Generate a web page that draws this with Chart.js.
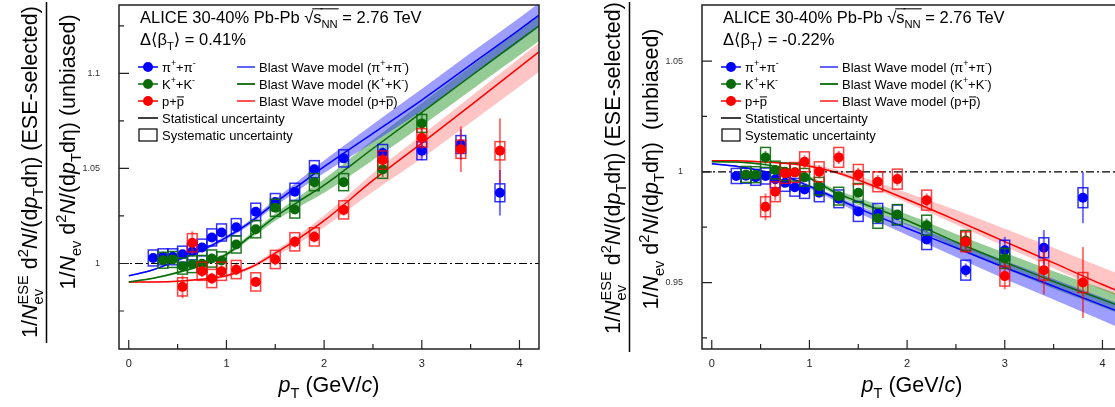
<!DOCTYPE html>
<html>
<head>
<meta charset="utf-8">
<script src="https://cdn.jsdelivr.net/npm/chart.js@4.4.1/dist/chart.umd.min.js"></script>
<style>
html, body { margin: 0; padding: 0; background: #fff; overflow: hidden; }
#wrap { position: relative; width: 1115px; height: 407px; overflow: hidden; }
.panel { position: absolute; top: 0; width: 583px; height: 407px; }
</style>
</head>
<body>
<div id="wrap">
  <div class="panel" style="left:0"><canvas id="left" width="583" height="407"></canvas></div>
  <div class="panel" style="left:583px"><canvas id="right" width="583" height="407"></canvas></div>
</div>
<script>
// ---------- axis ticks ----------
const xMajor = [0, 1, 2, 3, 4];
const xMinor = [0.5, 1.5, 2.5, 3.5];
const xTickLabels = ["0", "1", "2", "3", "4"];
const leftYMajor = [1, 1.05, 1.1];
const leftYMinor = [0.975, 1.025, 1.075, 1.125];
const leftYLabels = ["1", "1.05", "1.1"];
const rightYMajor = [0.95, 1, 1.05];
const rightYMinor = [0.925, 0.975, 1.025];
const rightYLabels = ["0.95", "1", "1.05"];

// ---------- left panel (d<beta_T> = 0.41%) ----------
const ptPi = [0.25, 0.35, 0.45, 0.55, 0.65, 0.75, 0.85, 0.95, 1.1, 1.3, 1.5, 1.7, 1.9, 2.2, 2.6, 3.0, 3.4, 3.8];
const ptK  = [0.35, 0.45, 0.55, 0.65, 0.75, 0.85, 0.95, 1.1, 1.3, 1.5, 1.7, 1.9, 2.2, 2.6, 3.0];
const ptP  = [0.55, 0.65, 0.75, 0.85, 0.95, 1.1, 1.3, 1.5, 1.7, 1.9, 2.2, 2.6, 3.0, 3.4, 3.8];

const leftPi     = [1.0029, 1.0035, 1.0035, 1.0049, 1.0063, 1.0084, 1.0137, 1.0163, 1.0191, 1.0272, 1.0323, 1.0377, 1.0496, 1.0553, 1.0581, 1.0593, 1.0626, 1.0372];
const leftPiStat = [0.001, 0.001, 0.001, 0.001, 0.001, 0.001, 0.001, 0.001, 0.0012, 0.0012, 0.0015, 0.0015, 0.002, 0.002, 0.003, 0.005, 0.008, 0.012];
const leftPiSys  = [0.0042, 0.0042, 0.0042, 0.0042, 0.0044, 0.0044, 0.0045, 0.0045, 0.0045, 0.0045, 0.0045, 0.0045, 0.0045, 0.0045, 0.0045, 0.0047, 0.0047, 0.0047];
const leftK      = [1.0017, 1.0021, 0.9986, 0.9996, 0.9998, 1.0026, 1.0016, 1.010, 1.018, 1.0293, 1.0284, 1.0428, 1.0428, 1.0495, 1.0737];
const leftKStat  = [0.001, 0.001, 0.001, 0.001, 0.001, 0.001, 0.001, 0.0012, 0.0012, 0.0015, 0.0015, 0.002, 0.0025, 0.004, 0.006];
const leftKSys   = [0.0042, 0.0042, 0.0042, 0.0044, 0.0044, 0.0045, 0.0045, 0.0045, 0.0045, 0.0045, 0.0045, 0.0045, 0.0045, 0.0047, 0.0047];
const leftP      = [0.9877, 1.0109, 0.9959, 0.9921, 0.9959, 0.9968, 0.9903, 1.0021, 1.0114, 1.014, 1.0282, 1.0544, 1.0661, 1.0601, 1.0593];
const leftPStat  = [0.006, 0.006, 0.003, 0.003, 0.003, 0.003, 0.002, 0.003, 0.003, 0.003, 0.003, 0.004, 0.006, 0.012, 0.017];
const leftPSys   = [0.0048, 0.0048, 0.0048, 0.0048, 0.0048, 0.0048, 0.0048, 0.0048, 0.0048, 0.0048, 0.0048, 0.0048, 0.0048, 0.0048, 0.0048];

const leftGrid   = [0, 0.25, 0.5, 0.75, 1.0, 1.25, 1.5, 1.75, 2.0, 2.5, 3.0, 3.5, 4.0, 4.2];
const leftBwPi   = [0.9935, 0.9967, 1.0017, 1.007, 1.0137, 1.0219, 1.032, 1.0415, 1.0509, 1.0685, 1.086, 1.1045, 1.123, 1.1307];
const leftBwPiDn = [0.0003, 0.0004, 0.0006, 0.0008, 0.001, 0.0013, 0.0018, 0.0025, 0.0033, 0.0048, 0.0058, 0.0062, 0.0063, 0.0063];
const leftBwPiUp = [0.0003, 0.0004, 0.0006, 0.0008, 0.001, 0.0013, 0.0018, 0.0025, 0.0033, 0.0048, 0.0058, 0.0062, 0.0063, 0.0063];
const leftBwK    = [0.9903, 0.9922, 0.9952, 0.9992, 1.0048, 1.0145, 1.0245, 1.033, 1.0412, 1.0605, 1.0795, 1.0985, 1.1175, 1.125];
const leftBwKDn  = [0.0003, 0.0004, 0.0006, 0.0008, 0.001, 0.0014, 0.002, 0.003, 0.004, 0.006, 0.007, 0.0075, 0.008, 0.008];
const leftBwKUp  = [0.0003, 0.0004, 0.0006, 0.0008, 0.001, 0.0013, 0.0018, 0.0025, 0.0032, 0.0045, 0.005, 0.0052, 0.0054, 0.0055];
const leftBwP    = [0.9902, 0.9903, 0.9907, 0.9917, 0.9935, 0.998, 1.0055, 1.0135, 1.0225, 1.0437, 1.0633, 1.0832, 1.1033, 1.1114];
const leftBwPDn  = [0.0003, 0.0003, 0.0004, 0.0005, 0.0007, 0.001, 0.0016, 0.0025, 0.0035, 0.006, 0.008, 0.009, 0.0102, 0.0105];
const leftBwPUp  = [0.0003, 0.0003, 0.0004, 0.0005, 0.0007, 0.001, 0.0014, 0.002, 0.0027, 0.0038, 0.0043, 0.0045, 0.0047, 0.0047];

// ---------- right panel (d<beta_T> = -0.22%) ----------
const rightPi     = [0.9981, 0.9982, 0.9975, 0.9981, 0.9966, 0.995, 0.993, 0.992, 0.9905, 0.9878, 0.9821, 0.9812, 0.9805, 0.9694, 0.9556, 0.9646, 0.9657, 0.9883];
const rightPiStat = [0.001, 0.001, 0.001, 0.001, 0.001, 0.001, 0.001, 0.001, 0.0012, 0.0012, 0.0015, 0.0015, 0.002, 0.002, 0.003, 0.006, 0.008, 0.0115];
const rightPiSys  = [0.0034, 0.0034, 0.0036, 0.0036, 0.0038, 0.0038, 0.004, 0.004, 0.004, 0.004, 0.0045, 0.0045, 0.0045, 0.0045, 0.0045, 0.0045, 0.0045, 0.0045];
const rightK      = [0.9988, 0.9987, 1.0065, 1.0008, 1.0, 0.9998, 0.9975, 0.9935, 0.989, 0.9905, 0.979, 0.9807, 0.9759, 0.969, 0.9609];
const rightKStat  = [0.001, 0.001, 0.003, 0.001, 0.001, 0.001, 0.001, 0.0012, 0.0012, 0.0015, 0.0015, 0.002, 0.003, 0.004, 0.005];
const rightKSys   = [0.0036, 0.0036, 0.0045, 0.004, 0.004, 0.004, 0.004, 0.004, 0.004, 0.0042, 0.0045, 0.0045, 0.0045, 0.0045, 0.0045];
const rightP      = [0.9842, 0.991, 0.9993, 0.9997, 1.0045, 1.0, 1.0065, 0.9988, 0.9955, 0.9967, 0.9872, 0.9684, 0.9529, 0.9556, 0.95];
const rightPStat  = [0.006, 0.004, 0.002, 0.002, 0.003, 0.003, 0.003, 0.003, 0.003, 0.003, 0.003, 0.005, 0.006, 0.011, 0.016];
const rightPSys   = [0.0045, 0.0045, 0.0045, 0.0045, 0.0045, 0.0045, 0.0045, 0.0045, 0.0045, 0.0045, 0.0045, 0.0045, 0.0045, 0.0045, 0.0045];

const rightGrid   = [0, 0.25, 0.5, 0.75, 1.0, 1.25, 1.5, 2.0, 2.5, 3.0, 3.5, 4.0, 4.2];
const rightBwPi   = [1.0036, 1.0025, 1.0005, 0.998, 0.9935, 0.9885, 0.9835, 0.9745, 0.9657, 0.9568, 0.9483, 0.9397, 0.9363];
const rightBwPiDn = [0.0003, 0.0004, 0.0005, 0.0007, 0.001, 0.0014, 0.002, 0.003, 0.0042, 0.0052, 0.006, 0.0068, 0.0072];
const rightBwPiUp = [0.0003, 0.0003, 0.0004, 0.0005, 0.0007, 0.001, 0.0013, 0.002, 0.0025, 0.003, 0.0033, 0.0035, 0.0036];
const rightBwK    = [1.0045, 1.0044, 1.0035, 1.0015, 0.9972, 0.991, 0.9865, 0.978, 0.9683, 0.9592, 0.9505, 0.9423, 0.939];
const rightBwKDn  = [0.0003, 0.0003, 0.0004, 0.0005, 0.0007, 0.001, 0.0014, 0.002, 0.0026, 0.003, 0.0033, 0.0035, 0.0036];
const rightBwKUp  = [0.0003, 0.0003, 0.0004, 0.0006, 0.0009, 0.0013, 0.0018, 0.0028, 0.0036, 0.0042, 0.0046, 0.005, 0.0052];
const rightBwP    = [1.005, 1.005, 1.0045, 1.0038, 1.0025, 1.0, 0.9963, 0.9875, 0.9782, 0.9685, 0.9589, 0.9491, 0.9455];
const rightBwPDn  = [0.0003, 0.0003, 0.0003, 0.0004, 0.0005, 0.0007, 0.001, 0.0015, 0.002, 0.0022, 0.0024, 0.0025, 0.0025];
const rightBwPUp  = [0.0003, 0.0003, 0.0004, 0.0006, 0.0009, 0.0013, 0.0018, 0.003, 0.0045, 0.0058, 0.0068, 0.0077, 0.008];

// ---------- styles ----------
const FONT = '"Liberation Sans", Arial, "DejaVu Sans", sans-serif';
const COL = {
  pi: { mark: "#0000ff", bar: "rgba(0,0,255,0.55)", box: "rgba(0,0,255,0.8)", band: "rgba(40,40,255,0.45)", leg: "rgba(60,60,255,0.8)" },
  k:  { mark: "#0a6a0a", bar: "rgba(10,106,10,0.6)", box: "rgba(10,106,10,0.9)", band: "rgba(20,140,20,0.45)", leg: "rgba(10,106,10,0.9)" },
  p:  { mark: "#ff0000", bar: "rgba(255,0,0,0.55)", box: "rgba(255,0,0,0.75)", band: "rgba(255,60,60,0.3)", leg: "rgba(255,40,40,0.8)" }
};

// ---------- rich text (sub / sup / italic / overline) ----------
function setFont(ctx, size, italic) {
  ctx.font = (italic ? "italic " : "") + size.toFixed(2) + "px " + FONT;
}
function drawRich(ctx, parts, x, y, size, align) {
  const sm = size * 0.68;
  let w = 0;
  const items = [];
  for (const [t, k] of parts) {
    let iw;
    if (k === "ss") {
      setFont(ctx, sm, false);
      iw = Math.max(ctx.measureText(t[0]).width, ctx.measureText(t[1]).width);
    } else {
      const small = k === "sub" || k === "sup" || k === "ovsub";
      setFont(ctx, small ? sm : size, k === "i");
      iw = ctx.measureText(t).width;
    }
    items.push({ t, k, x: w, w: iw });
    w += iw;
  }
  const x0 = align === "center" ? x - w / 2 : x;
  ctx.textAlign = "left";
  ctx.textBaseline = "alphabetic";
  ctx.lineWidth = Math.max(1, size / 16);
  for (const it of items) {
    const px = x0 + it.x;
    if (it.k === "ss") {
      setFont(ctx, sm, false);
      ctx.fillText(it.t[0], px, y + size * 0.3);
      ctx.fillText(it.t[1], px, y - size * 0.42);
    } else if (it.k === "sub" || it.k === "ovsub") {
      setFont(ctx, sm, false);
      ctx.fillText(it.t, px, y + size * 0.3);
    } else if (it.k === "sup") {
      setFont(ctx, sm, false);
      ctx.fillText(it.t, px, y - size * 0.42);
    } else {
      setFont(ctx, size, it.k === "i");
      ctx.fillText(it.t, px, y);
    }
    if (it.k === "ov" || it.k === "ovsub") {
      ctx.beginPath(); ctx.moveTo(px - 1, y - size * 0.86); ctx.lineTo(px + it.w + 1, y - size * 0.86); ctx.stroke();
    }
    if (it.k === "bar") {
      ctx.beginPath(); ctx.moveTo(px, y - size * 0.66); ctx.lineTo(px + it.w, y - size * 0.66); ctx.stroke();
    }
  }
  return w;
}

const piText = [["\u03C0", "n"], ["+", "sup"], ["+\u03C0", "n"], ["-", "sup"]];
const kText  = [["K", "n"], ["+", "sup"], ["+K", "n"], ["-", "sup"]];
const pText  = [["p+", "n"], ["p", "bar"]];
const headText = [["ALICE 30-40% Pb-Pb ", "n"], ["\u221A", "n"], ["s", "ov"], ["NN", "ovsub"], [" = 2.76 TeV", "n"]];
const xTitle = [["p", "i"], ["T", "sub"], [" (GeV/", "n"], ["c", "i"], [")", "n"]];
const yTop = [["1/", "n"], ["N", "i"], [["ev", "ESE"], "ss"], [" d", "n"], ["2", "sup"], ["N", "i"], ["/(d", "n"], ["p", "i"], ["T", "sub"], ["d\u03B7) (ESE-selected)", "n"]];

// ---------- drawing plugin ----------
const decor = {
  id: "decor",
  beforeDatasetDraw(chart, args) {
    const ds = chart.data.datasets[args.index];
    if (!ds.stat) return;
    const ctx = chart.ctx, xs = chart.scales.x, ys = chart.scales.y, ca = chart.chartArea;
    ctx.save();
    ctx.beginPath(); ctx.rect(ca.left, ca.top, ca.right - ca.left, ca.bottom - ca.top); ctx.clip();
    ds.data.forEach((d, i) => {
      const x = xs.getPixelForValue(d.x);
      const xl = xs.getPixelForValue(d.x - 0.05), xr = xs.getPixelForValue(d.x + 0.05);
      const yt = ys.getPixelForValue(d.y + ds.sys[i]), yb = ys.getPixelForValue(d.y - ds.sys[i]);
      ctx.strokeStyle = ds.boxColor; ctx.lineWidth = 1.5;
      ctx.strokeRect(xl, yt, xr - xl, yb - yt);
      ctx.strokeStyle = ds.barColor; ctx.lineWidth = 2;
      ctx.beginPath();
      ctx.moveTo(x, ys.getPixelForValue(d.y + ds.stat[i]));
      ctx.lineTo(x, ys.getPixelForValue(d.y - ds.stat[i]));
      ctx.stroke();
    });
    ctx.restore();
  },
  afterDraw(chart) {
    const o = chart.options.plugins.decor;
    const ctx = chart.ctx, xs = chart.scales.x, ys = chart.scales.y, ca = chart.chartArea;
    ctx.save();
    // frame + inward ticks
    ctx.strokeStyle = "#222"; ctx.lineWidth = 1.5;
    ctx.strokeRect(ca.left, ca.top, ca.right - ca.left, ca.bottom - ca.top);
    ctx.lineWidth = 1.2;
    ctx.beginPath();
    xMajor.forEach(v => { const x = xs.getPixelForValue(v); ctx.moveTo(x, ca.bottom); ctx.lineTo(x, ca.bottom - 9); });
    xMinor.forEach(v => { const x = xs.getPixelForValue(v); ctx.moveTo(x, ca.bottom); ctx.lineTo(x, ca.bottom - 5); });
    o.yMajor.forEach(v => { const y = ys.getPixelForValue(v); ctx.moveTo(ca.left, y); ctx.lineTo(ca.left + 10, y); });
    o.yMinor.forEach(v => { const y = ys.getPixelForValue(v); ctx.moveTo(ca.left, y); ctx.lineTo(ca.left + 5, y); });
    ctx.stroke();

    ctx.fillStyle = "#000"; ctx.strokeStyle = "#000";
    // x title
    drawRich(ctx, xTitle, (ca.left + ca.right) / 2, 392, 21.5, "center");
    // y title (fraction)
    ctx.lineWidth = 1.5;
    ctx.beginPath(); ctx.moveTo(46.5, 2); ctx.lineTo(46.5, o.fracEnd); ctx.stroke();
    ctx.save(); ctx.translate(37, o.topCenter); ctx.rotate(-Math.PI / 2);
    drawRich(ctx, yTop, 0, 0, 21.5, "center"); ctx.restore();
    ctx.save(); ctx.translate(75, o.botCenter); ctx.rotate(-Math.PI / 2);
    drawRich(ctx, o.yBottom, 0, 0, 21.5, "center"); ctx.restore();

    // header
    const L = ca.left, T = ca.top;
    drawRich(ctx, headText, L + 21, T + 18, 16.5, "left");
    drawRich(ctx, [["\u0394\u27E8\u03B2", "n"], ["T", "sub"], ["\u27E9 = " + o.delta, "n"]], L + 21, T + 40, 16.5, "left");

    // legend
    const rows = [T + 62, T + 79, T + 96, T + 113, T + 130];
    const sp = [[piText, COL.pi], [kText, COL.k], [pText, COL.p]];
    sp.forEach(([txt, c], i) => {
      const y = rows[i];
      ctx.strokeStyle = c.mark; ctx.lineWidth = 1.5;
      ctx.beginPath(); ctx.moveTo(L + 19, y); ctx.lineTo(L + 39, y); ctx.stroke();
      ctx.fillStyle = c.mark;
      ctx.beginPath(); ctx.arc(L + 29, y, 5, 0, Math.PI * 2); ctx.fill();
      ctx.fillStyle = "#000"; ctx.strokeStyle = "#000";
      drawRich(ctx, txt, L + 43, y + 4.5, 13, "left");
      ctx.strokeStyle = c.leg; ctx.lineWidth = 2;
      ctx.beginPath(); ctx.moveTo(L + 118, y); ctx.lineTo(L + 136, y); ctx.stroke();
      ctx.strokeStyle = "#000";
      drawRich(ctx, [["Blast Wave model (", "n"], ...txt, [")", "n"]], L + 140, y + 4.5, 13, "left");
    });
    ctx.strokeStyle = "#000"; ctx.lineWidth = 1.5;
    ctx.beginPath(); ctx.moveTo(L + 19, rows[3]); ctx.lineTo(L + 39, rows[3]); ctx.stroke();
    drawRich(ctx, [["Statistical uncertainty", "n"]], L + 43, rows[3] + 4.5, 13, "left");
    ctx.lineWidth = 1.2;
    ctx.strokeRect(L + 20, rows[4] - 6, 18, 12);
    drawRich(ctx, [["Systematic uncertainty", "n"]], L + 43, rows[4] + 4.5, 13, "left");
    ctx.restore();
  }
};

function bandSets(grid, line, dn, up, c) {
  const smooth = { pointRadius: 0, cubicInterpolationMode: "monotone", type: "line" };
  return [
    Object.assign({ data: grid.map((x, i) => ({ x, y: line[i] + up[i] })), borderWidth: 0, fill: "+1", backgroundColor: c.band, order: 10 }, smooth),
    Object.assign({ data: grid.map((x, i) => ({ x, y: line[i] - dn[i] })), borderWidth: 0, fill: false, order: 10 }, smooth),
    Object.assign({ data: grid.map((x, i) => ({ x, y: line[i] })), borderWidth: 1.5, borderColor: c.mark, fill: false, order: 6 }, smooth)
  ];
}
function pointSet(pt, v, stat, sys, c, order) {
  return {
    type: "scatter", data: pt.map((x, i) => ({ x, y: v[i] })), stat, sys,
    barColor: c.bar, boxColor: c.box, pointRadius: 5, pointBackgroundColor: c.mark,
    pointBorderWidth: 0, order
  };
}

function makePanel(id, p) {
  const datasets = [
    ...bandSets(p.grid, p.bwPi, p.bwPiDn, p.bwPiUp, COL.pi),
    ...bandSets(p.grid, p.bwK, p.bwKDn, p.bwKUp, COL.k),
    ...bandSets(p.grid, p.bwP, p.bwPDn, p.bwPUp, COL.p),
    { type: "line", data: [{ x: -0.1, y: 1 }, { x: 4.2, y: 1 }], borderColor: "#000", borderWidth: 1.2,
      borderDash: [8, 3, 2, 3], pointRadius: 0, fill: false, order: 5 },
    pointSet(ptPi, p.pi, p.piStat, p.piSys, COL.pi, 3),
    pointSet(ptK, p.k, p.kStat, p.kSys, COL.k, 2),
    pointSet(ptP, p.p, p.pStat, p.pSys, COL.p, 1)
  ];
  // invisible tick marks push the labels away from the frame without adding top padding
  const hiddenGrid = { display: true, drawOnChartArea: false, drawTicks: true, color: "rgba(0,0,0,0)", tickColor: "rgba(0,0,0,0)" };
  new Chart(document.getElementById(id), {
    type: "scatter",
    data: { datasets },
    options: {
      responsive: false, animation: false, devicePixelRatio: 1, events: [],
      layout: { padding: { top: 5, right: 44, left: 0, bottom: 0 }, autoPadding: false },
      plugins: {
        legend: { display: false }, tooltip: { enabled: false },
        decor: { yMajor: p.yMajor, yMinor: p.yMinor, delta: p.delta, yBottom: p.yBottom,
                 topCenter: p.topCenter, botCenter: p.botCenter, fracEnd: p.fracEnd }
      },
      scales: {
        x: {
          type: "linear", min: -0.1, max: 4.2,
          afterFit(s) { s.height = 58; },
          afterBuildTicks(s) { s.ticks = xMajor.map(v => ({ value: v })); },
          grid: Object.assign({ tickLength: 9 }, hiddenGrid), border: { display: false },
          ticks: { padding: 0, autoSkip: false, maxRotation: 0, color: "#222",
                   font: { family: FONT, size: 11, lineHeight: 1 }, callback: (v, i) => xTickLabels[i] }
        },
        y: {
          type: "linear", min: p.yMin, max: p.yMax,
          afterFit(s) { s.width = 119; },
          afterBuildTicks(s) { s.ticks = p.yMajor.map(v => ({ value: v })); },
          grid: Object.assign({ tickLength: 19 }, hiddenGrid), border: { display: false },
          ticks: { padding: 0, autoSkip: false, color: "#333",
                   font: { family: FONT, size: 9, lineHeight: 1 }, callback: (v, i) => p.yLabels[i] }
        }
      }
    },
    plugins: [decor]
  });
}

makePanel("left", {
  yMin: 0.955, yMax: 1.136, yMajor: leftYMajor, yMinor: leftYMinor, yLabels: leftYLabels, delta: "0.41%",
  yBottom: [["1/", "n"], ["N", "i"], ["ev", "sub"], [" d", "n"], ["2", "sup"], ["N", "i"], ["/(d", "n"], ["p", "i"], ["T", "sub"], ["d\u03B7) (unbiased)", "n"]],
  topCenter: 172, botCenter: 152, fracEnd: 343,
  pi: leftPi, piStat: leftPiStat, piSys: leftPiSys,
  k: leftK, kStat: leftKStat, kSys: leftKSys,
  p: leftP, pStat: leftPStat, pSys: leftPSys,
  grid: leftGrid,
  bwPi: leftBwPi, bwPiDn: leftBwPiDn, bwPiUp: leftBwPiUp,
  bwK: leftBwK, bwKDn: leftBwKDn, bwKUp: leftBwKUp,
  bwP: leftBwP, bwPDn: leftBwPDn, bwPUp: leftBwPUp
});

makePanel("right", {
  yMin: 0.92, yMax: 1.0753, yMajor: rightYMajor, yMinor: rightYMinor, yLabels: rightYLabels, delta: "-0.22%",
  yBottom: [["1/", "n"], ["N", "i"], ["ev", "sub"], [" d", "n"], ["2", "sup"], ["N", "i"], ["/(d", "n"], ["p", "i"], ["T", "sub"], ["d\u03B7)  (unbiased)", "n"]],
  topCenter: 168, botCenter: 169, fracEnd: 352,
  pi: rightPi, piStat: rightPiStat, piSys: rightPiSys,
  k: rightK, kStat: rightKStat, kSys: rightKSys,
  p: rightP, pStat: rightPStat, pSys: rightPSys,
  grid: rightGrid,
  bwPi: rightBwPi, bwPiDn: rightBwPiDn, bwPiUp: rightBwPiUp,
  bwK: rightBwK, bwKDn: rightBwKDn, bwKUp: rightBwKUp,
  bwP: rightBwP, bwPDn: rightBwPDn, bwPUp: rightBwPUp
});
</script>
</body>
</html>
